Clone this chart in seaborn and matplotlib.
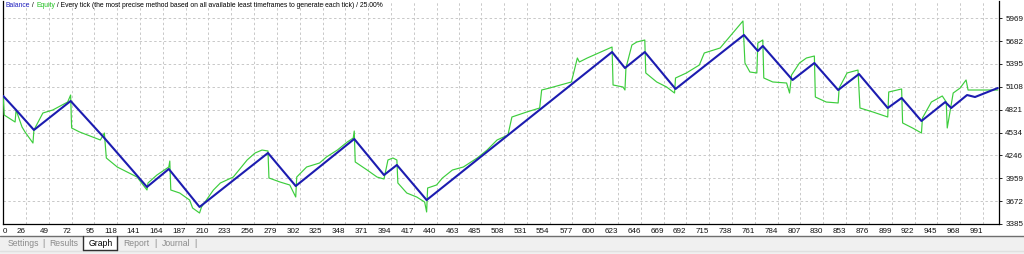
import matplotlib
matplotlib.use("Agg")
import matplotlib.pyplot as plt
import seaborn as sns
import pandas as pd
from matplotlib.patches import Rectangle
from matplotlib.lines import Line2D

# ---------------- data ----------------
balance_x = [3, 16, 34, 71, 105, 148, 170, 201, 270, 298, 357, 387, 400, 430,
             617, 630, 650, 681, 750, 764, 769, 799, 821, 845, 866, 895, 909,
             929, 953, 959, 975, 983, 1006]
balance_y = [4993, 4817, 4566, 4930, 4465, 3850, 4076, 3599, 4277, 3862, 4453,
             4000, 4126, 3686, 5545, 5344, 5545, 5081, 5759, 5558, 5621, 5194,
             5407, 5068, 5269, 4842, 4968, 4679, 4917, 4842, 5005, 4980, 5093]

equity_x = [3, 4, 15, 16, 22, 25, 33, 34, 43, 53, 68, 71, 72, 80, 101, 105, 107,
            118, 128, 138, 148, 149, 158, 170, 171, 172, 181, 191, 194, 201, 203,
            215, 222, 235, 249, 257, 264, 270, 271, 282, 292, 298, 299, 309, 322,
            329, 340, 350, 356, 357, 358, 370, 380, 387, 391, 396, 400, 401, 410,
            420, 428, 430, 431, 440, 446, 456, 467, 481, 491, 501, 512, 516, 531,
            544, 546, 554, 576, 582, 584, 592, 617, 618, 628, 630, 631, 637, 642,
            650, 651, 662, 672, 680, 681, 692, 705, 710, 726, 749, 751, 756, 763,
            764, 769, 770, 779, 793, 796, 798, 806, 813, 821, 822, 833, 845, 846,
            854, 865, 867, 880, 895, 896, 909, 910, 920, 929, 930, 939, 950, 954,
            955, 961, 968, 974, 976, 1006]
equity_y = [4993, 4754, 4666, 4817, 4603, 4541, 4402, 4566, 4779, 4817, 4917,
            5005, 4591, 4541, 4440, 4528, 4214, 4101, 4038, 3975, 3812, 3900,
            4000, 4101, 4176, 3812, 3774, 3686, 3586, 3523, 3599, 3812, 3900,
            3975, 4189, 4277, 4314, 4302, 3963, 3913, 3875, 3724, 3975, 4101,
            4151, 4227, 4314, 4415, 4465, 4553, 4164, 4063, 3975, 3950, 4189,
            4214, 4189, 3900, 3774, 3724, 3661, 3536, 3837, 3875, 3963, 4063,
            4101, 4214, 4314, 4440, 4503, 4729, 4792, 4842, 5068, 5093, 5169,
            5470, 5420, 5470, 5608, 5131, 5106, 5068, 5344, 5633, 5671, 5696,
            5282, 5169, 5106, 5030, 5219, 5282, 5382, 5533, 5596, 5935, 5407,
            5294, 5282, 5658, 5696, 5219, 5169, 5156, 5030, 5256, 5407, 5470,
            5495, 4980, 4917, 4905, 5093, 5282, 5319, 4842, 4792, 4729, 5043,
            5081, 4654, 4591, 4528, 4716, 4917, 4993, 4917, 4591, 5030, 5093,
            5194, 5068, 5068]

x_ticks = [0, 26, 49, 72, 95, 118, 141, 164, 187, 210, 233, 256, 279, 302, 325,
           348, 371, 394, 417, 440, 463, 485, 508, 531, 554, 577, 600, 623, 646,
           669, 692, 715, 738, 761, 784, 807, 830, 853, 876, 899, 922, 945, 968, 991]
y_ticks = [3385, 3672, 3959, 4246, 4534, 4821, 5108, 5395, 5682, 5969]

title_parts = [("Balance", "#2020c0"), (" / ", "#000000"), ("Equity", "#20c020"),
               (" / Every tick (the most precise method based on all available least "
                "timeframes to generate each tick) / 25.00%", "#000000")]
tabs = ["Settings", "Results", "Graph", "Report", "Journal"]

# ---------------- figure ----------------
sns.set_theme(style="white")
plt.rcParams['font.family'] = ['Liberation Sans', 'DejaVu Sans']

W, H = 1024, 254
fig = plt.figure(figsize=(W / 100, H / 100), dpi=100)
fig.patch.set_facecolor("white")

def fx(px):
    return px / W

def fy(py):
    return 1 - py / H

ax = fig.add_axes([fx(3), fy(224), fx(999) - fx(3), fy(1) - fy(224)])
ax.set_facecolor("white")

bal = pd.DataFrame({"x": balance_x, "y": balance_y})
eq = pd.DataFrame({"x": equity_x, "y": equity_y})

sns.lineplot(data=eq, x="x", y="y", ax=ax, sort=False, estimator=None,
             color="#3ccd3c", linewidth=0.85, zorder=3)
sns.lineplot(data=bal, x="x", y="y", ax=ax, sort=False, estimator=None,
             color="#1c1cb0", linewidth=1.5, zorder=4)

ax.set_xlim(2.8, 1007.2)
ax.set_ylim(3385, 6186)

xt_pos = [max(v, 2.8) for v in x_ticks]
ax.set_xticks(xt_pos)
ax.set_xticklabels([str(v) for v in x_ticks])
ax.set_yticks(y_ticks)
ax.set_yticklabels([str(v) for v in y_ticks])
ax.yaxis.tick_right()
ax.tick_params(axis="x", length=0, pad=3, labelsize=5.8, colors="#000000")
ax.tick_params(axis="y", length=2, width=0.6, pad=2.5, labelsize=5.8,
               colors="#000000", direction="out")
for lab in ax.get_xticklabels():
    lab.set_ha("right")
    lab.set_color("#111111")
ax.get_xticklabels()[0].set_ha("left")
for lab in ax.get_yticklabels():
    lab.set_color("#111111")

ax.grid(True, color="#c8c8c8", linestyle=(0, (2.5, 2.5)), linewidth=0.7)
ax.set_axisbelow(True)
ax.set_xlabel("")
ax.set_ylabel("")

for side in ["left", "bottom", "right"]:
    ax.spines[side].set_visible(True)
    ax.spines[side].set_color("#000000")
    ax.spines[side].set_linewidth(0.9)
ax.spines["top"].set_visible(False)

# title with coloured parts
fig.canvas.draw()
renderer = fig.canvas.get_renderer()
cur = fx(6)
for txt, col in title_parts:
    t = fig.text(cur, fy(5.5), txt, color=col, fontsize=4.9, ha="left", va="center")
    bb = t.get_window_extent(renderer=renderer)
    cur += bb.width / W

# bottom tab bar
fig.patches.append(Rectangle((0, 0), 1, fy(236), transform=fig.transFigure,
                             facecolor="#f0f0f0", edgecolor="none", zorder=0))
fig.lines.append(Line2D([0, 1], [fy(236), fy(236)], transform=fig.transFigure,
                        color="#6e6e6e", linewidth=1.0))
fig.lines.append(Line2D([0, 1], [fy(251), fy(251)], transform=fig.transFigure,
                        color="#e0e0e0", linewidth=1.0))
# active tab box
fig.patches.append(Rectangle((fx(83), fy(250)), fx(117) - fx(83), fy(236) - fy(250),
                             transform=fig.transFigure, facecolor="#ffffff",
                             edgecolor="none", zorder=1))
for seg in [([83, 83], [236, 250]), ([83, 117], [250, 250]), ([117, 117], [236, 250])]:
    fig.lines.append(Line2D([fx(v) for v in seg[0]], [fy(v) for v in seg[1]],
                            transform=fig.transFigure, color="#303030", linewidth=1.0))

tab_x = [8, 49, 89, 123, 162]
sep_x = [42, 154, 194]
for name, px in zip(tabs, tab_x):
    col = "#000000" if name == "Graph" else "#8a8a8a"
    fig.text(fx(px), fy(243), name, color=col, fontsize=6.2, ha="left", va="center")
for px in sep_x:
    fig.text(fx(px), fy(243), "|", color="#8a8a8a", fontsize=6.2, ha="left", va="center")

fig.savefig("out.png", dpi=100, facecolor="white")
